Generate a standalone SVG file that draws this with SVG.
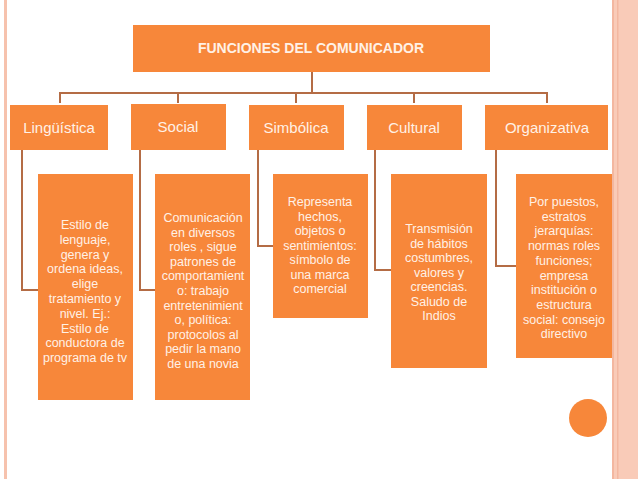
<svg xmlns="http://www.w3.org/2000/svg" width="638" height="479" viewBox="0 0 638 479">
<style>
.b{fill:#F7873A}
.c{fill:none;stroke:#B46C45;stroke-width:2}
text{font-family:"Liberation Sans",Arial,sans-serif;fill:#FFF1E6;text-anchor:middle}
.h{font-size:14px;font-weight:bold}
.l{font-size:15px}
.t{font-size:12.5px}
</style>
<rect width="638" height="479" fill="#fff"/>
<rect x="4" y="0" width="3" height="479" fill="#F6C2AD"/>
<rect x="612" y="0" width="26" height="479" fill="#F9CBB8"/>
<rect x="612" y="0" width="2" height="479" fill="#F3B7A0"/>
<rect x="617" y="0" width="1.5" height="479" fill="#F3B7A0"/>
<g id="connectors">
<path class="c" d="M312 72V93M60 103V93H547V103M178 93V103M296 93V103M414 93V103"/>
<path class="c" d="M22 150V290H38M140 150V290H155M258 150V246H273M375 150V270H391M496 150V266H516"/>
</g>
<g id="root"><rect class="b" x="133" y="25" width="357" height="47"/><text class="h" x="311" y="53">FUNCIONES DEL COMUNICADOR</text></g>
<g id="n1"><rect class="b" x="10" y="105" width="98" height="45"/><text class="l" x="59" y="133">Lingüística</text></g>
<g id="n2"><rect class="b" x="131" y="104" width="95" height="46"/><text class="l" x="178" y="132">Social</text></g>
<g id="n3"><rect class="b" x="249" y="105" width="95" height="45"/><text class="l" x="296" y="133">Simbólica</text></g>
<g id="n4"><rect class="b" x="367" y="105" width="95" height="45"/><text class="l" x="414" y="133">Cultural</text></g>
<g id="n5"><rect class="b" x="485" y="105" width="123" height="45"/><text class="l" x="547" y="133">Organizativa</text></g>
<g id="c1"><rect class="b" x="38" y="174" width="95" height="226"/>
<text class="t" x="85" y="229"><tspan x="85">Estilo de</tspan><tspan x="85" dy="14.8">lenguaje,</tspan><tspan x="85" dy="14.8">genera y</tspan><tspan x="85" dy="14.8">ordena ideas,</tspan><tspan x="85" dy="14.8">elige</tspan><tspan x="85" dy="14.8">tratamiento y</tspan><tspan x="85" dy="14.8">nivel. Ej.:</tspan><tspan x="85" dy="14.8">Estilo de</tspan><tspan x="85" dy="14.8">conductora de</tspan><tspan x="85" dy="14.8">programa de tv</tspan></text></g>
<g id="c2"><rect class="b" x="155" y="174" width="95" height="226"/>
<text class="t" x="203" y="222"><tspan x="203">Comunicación</tspan><tspan x="203" dy="14.6">en diversos</tspan><tspan x="203" dy="14.6">roles , sigue</tspan><tspan x="203" dy="14.6">patrones de</tspan><tspan x="203" dy="14.6">comportamient</tspan><tspan x="203" dy="14.6">o: trabajo</tspan><tspan x="203" dy="14.6">entretenimient</tspan><tspan x="203" dy="14.6">o, política:</tspan><tspan x="203" dy="14.6">protocolos al</tspan><tspan x="203" dy="14.6">pedir la mano</tspan><tspan x="203" dy="14.6">de una novia</tspan></text></g>
<g id="c3"><rect class="b" x="273" y="174" width="95" height="144"/>
<text class="t" x="320" y="206"><tspan x="320">Representa</tspan><tspan x="320" dy="14.5">hechos,</tspan><tspan x="320" dy="14.5">objetos o</tspan><tspan x="320" dy="14.5">sentimientos:</tspan><tspan x="320" dy="14.5">símbolo de</tspan><tspan x="320" dy="14.5">una marca</tspan><tspan x="320" dy="14.5">comercial</tspan></text></g>
<g id="c4"><rect class="b" x="391" y="174" width="96" height="194"/>
<text class="t" x="439" y="233"><tspan x="439">Transmisión</tspan><tspan x="439" dy="14.5">de hábitos</tspan><tspan x="439" dy="14.5">costumbres,</tspan><tspan x="439" dy="14.5">valores y</tspan><tspan x="439" dy="14.5">creencias.</tspan><tspan x="439" dy="14.5">Saludo de</tspan><tspan x="439" dy="14.5">Indios</tspan></text></g>
<g id="c5"><rect class="b" x="516" y="174" width="96" height="184"/>
<text class="t" x="564" y="206"><tspan x="564">Por puestos,</tspan><tspan x="564" dy="14.7">estratos</tspan><tspan x="564" dy="14.7">jerarquías:</tspan><tspan x="564" dy="14.7">normas roles</tspan><tspan x="564" dy="14.7">funciones;</tspan><tspan x="564" dy="14.7">empresa</tspan><tspan x="564" dy="14.7">institución o</tspan><tspan x="564" dy="14.7">estructura</tspan><tspan x="564" dy="14.7">social: consejo</tspan><tspan x="564" dy="14.7">directivo</tspan></text></g>
<circle cx="588" cy="418" r="19" fill="#F7873A"/>
</svg>
